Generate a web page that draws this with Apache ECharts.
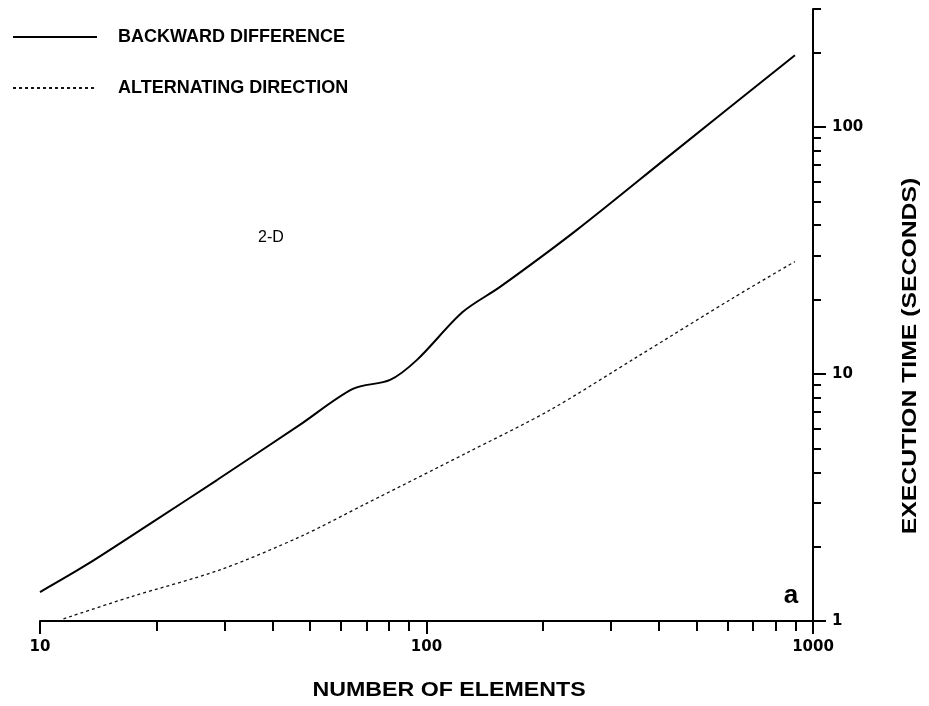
<!DOCTYPE html>
<html><head><meta charset="utf-8">
<script src="https://cdn.jsdelivr.net/npm/echarts@6/dist/echarts.min.js"></script>
<style>html,body{margin:0;padding:0;background:#fff}#c{width:929px;height:706px}</style>
</head><body><div id="c"></div>
<script>
// Backward difference (solid)
const bdN = [10, 13.2, 19.6, 28.7, 47, 64.5, 80.5, 94.5, 124, 155, 245, 434, 898];
const bdT = [1.31, 1.69, 2.52, 3.72, 6.22, 8.7, 9.46, 11.4, 17.8, 22.5, 38.3, 78.5, 195];
// Alternating direction (dotted)
const adN = [11.5, 17.1, 29.2, 47, 70.2, 127, 209, 350, 621, 898];
const adT = [1.02, 1.25, 1.61, 2.19, 3.0, 4.79, 7.15, 11.7, 20.3, 28.5];
const xMajorTicks = [10, 100, 1000];
const xMinorTicks = [20, 30, 40, 50, 60, 70, 80, 90, 200, 300, 400, 500, 600, 700, 800, 900];
const yMajorTicks = [1, 10, 100];
const yMinorTicks = [2, 3, 4, 5, 6, 7, 8, 9, 20, 30, 40, 50, 60, 70, 80, 90, 200, 300];
const seriesNames = ['BACKWARD DIFFERENCE', 'ALTERNATING DIRECTION'];

const chart = echarts.init(document.getElementById('c'));
const lblFont = {fontFamily: 'DejaVu Sans', fontWeight: 'bold', fontSize: 15, color: '#000'};
function pair(a, b) { return a.map((v, i) => [v, b[i]]); }
const plain = v => String(v);

chart.setOption({
  backgroundColor: '#fff',
  animation: false,
  grid: {left: 40, right: 116, top: 9, bottom: 85, containLabel: false, outerBoundsMode: 'none'},
  legend: {
    orient: 'vertical', left: 12, top: 28, padding: 0, itemWidth: 84, itemHeight: 14, itemGap: 33,
    itemStyle: {opacity: 0},
    textStyle: {fontFamily: 'Liberation Sans', fontWeight: 'bold', fontSize: 18, color: '#000', padding: [0, 0, 0, 16]},
    data: seriesNames
  },
  xAxis: [{
    type: 'log', logBase: 10, min: 10, max: 1000, position: 'bottom',
    axisLine: {lineStyle: {color: '#000', width: 2}},
    axisTick: {customValues: xMajorTicks, length: 13, lineStyle: {color: '#000', width: 2}},
    axisLabel: Object.assign({customValues: xMajorTicks, margin: 19, formatter: plain}, lblFont),
    splitLine: {show: false}
  }, {
    type: 'log', logBase: 10, min: 10, max: 1000, position: 'bottom',
    axisLine: {show: false},
    axisTick: {customValues: xMinorTicks, length: 10, lineStyle: {color: '#000', width: 2}},
    axisLabel: {show: false}, splitLine: {show: false}
  }],
  yAxis: [{
    type: 'log', logBase: 10, min: 1, max: 300, position: 'right',
    axisLine: {lineStyle: {color: '#000', width: 2}},
    axisTick: {customValues: yMajorTicks, length: 13, lineStyle: {color: '#000', width: 2}},
    axisLabel: Object.assign({customValues: yMajorTicks, margin: 19, formatter: plain}, lblFont),
    splitLine: {show: false}
  }, {
    type: 'log', logBase: 10, min: 1, max: 300, position: 'right',
    axisLine: {show: false},
    axisTick: {customValues: yMinorTicks, length: 8, lineStyle: {color: '#000', width: 2}},
    axisLabel: {show: false}, splitLine: {show: false}
  }],
  series: [{
    name: seriesNames[0], type: 'line', xAxisIndex: 0, yAxisIndex: 0,
    data: pair(bdN, bdT), symbol: 'none', smooth: 0.3,
    lineStyle: {color: '#000', width: 2}, itemStyle: {color: '#000'}
  }, {
    name: seriesNames[1], type: 'line', xAxisIndex: 0, yAxisIndex: 0,
    data: pair(adN, adT), symbol: 'none', smooth: 0.3,
    lineStyle: {color: '#111', width: 1.3, type: [3, 3]}, itemStyle: {color: '#111'}
  }],
  graphic: [
    {type: 'text', x: 258, y: 238, style: {text: '2-D', font: '16px "Liberation Sans"', fill: '#000', verticalAlign: 'middle'}},
    {type: 'text', x: 791, y: 596, style: {text: 'a', font: 'bold 26px "Liberation Sans"', fill: '#000', align: 'center', verticalAlign: 'middle'}},
    {type: 'text', x: 449, y: 690, scaleX: 1.16, style: {text: 'NUMBER OF ELEMENTS', font: 'bold 20px "Liberation Sans"', fill: '#000', align: 'center', verticalAlign: 'middle'}},
    {type: 'text', x: 910, y: 356, rotation: Math.PI / 2, scaleX: 1.18, style: {text: 'EXECUTION TIME (SECONDS)', font: 'bold 21px "Liberation Sans"', fill: '#000', align: 'center', verticalAlign: 'middle'}}
  ]
});
</script></body></html>
